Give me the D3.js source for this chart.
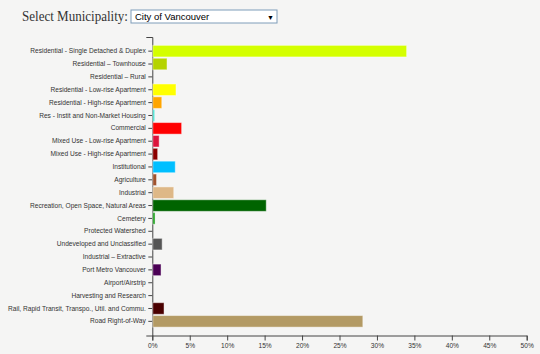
<!DOCTYPE html>
<html>
<head>
<meta charset="utf-8">
<script src="https://cdn.jsdelivr.net/npm/d3@7"></script>
<style>
  body { margin: 0; background: #f5f5f4; }
  svg { display: block; }
  .tick text { font-family: Arial, "Liberation Sans", sans-serif; font-size: 6.6px; fill: #333; }
  .domain, .tick line { stroke: #444; }
</style>
</head>
<body>
<svg id="chart" width="540" height="354"></svg>
<script>
const categories = [
  'Residential - Single Detached & Duplex',
  'Residential \u2013 Townhouse',
  'Residential \u2013 Rural',
  'Residential - Low-rise Apartment',
  'Residential - High-rise Apartment',
  'Res - Instit and Non-Market Housing',
  'Commercial',
  'Mixed Use - Low-rise Apartment',
  'Mixed Use - High-rise Apartment',
  'Institutional',
  'Agriculture',
  'Industrial',
  'Recreation, Open Space, Natural Areas',
  'Cemetery',
  'Protected Watershed',
  'Undeveloped and Unclassified',
  'Industrial \u2013 Extractive',
  'Port Metro Vancouver',
  'Airport/Airstrip',
  'Harvesting and Research',
  'Rail, Rapid Transit, Transpo., Util. and Commu.',
  'Road Right-of-Way'
]
// share of municipal land area, %
const values = [33.9, 1.9, 0, 3.1, 1.2, 0.25, 3.85, 0.85, 0.65, 3.0, 0.5, 2.8,
  15.15, 0.3, 0, 1.25, 0, 1.1, 0, 0, 1.5, 28.05]
const colors = ['#d4ff00', '#b5d300', '#ffffff', '#ffff00', '#ffa500', '#40e0d0',
  '#ff0000', '#dc143c', '#8b0000', '#00bfff', '#a0522d', '#deb887', '#006400',
  '#1a9e1a', '#ffffff', '#555555', '#ffffff', '#4b0055', '#ffffff', '#ffffff',
  '#4a0000', '#b39a64']
const xTicks = [0, 0.05, 0.1, 0.15, 0.2, 0.25, 0.3, 0.35, 0.4, 0.45, 0.5]
const municipality = 'City of Vancouver'

function draw() {
  const svg = d3.select('#chart')
  svg.selectAll('*').remove()

  // municipality picker header
  svg.append('text')
    .attr('x', 22)
    .attr('y', 21)
    .attr('font-family', '"Liberation Serif", "DejaVu Serif", serif')
    .attr('font-size', 14.5)
    .attr('fill', '#333')
    .attr('textLength', 106)
    .attr('lengthAdjust', 'spacingAndGlyphs')
    .text('Select Municipality:')

  const sel = svg.append('g').attr('transform', 'translate(131,10)')
  sel.append('rect')
    .attr('width', 146).attr('height', 13)
    .attr('fill', '#fff').attr('stroke', '#7f9db9')
  sel.append('text')
    .attr('x', 4).attr('y', 10)
    .attr('font-family', 'Arial, "Liberation Sans", sans-serif')
    .attr('font-size', 9.5)
    .attr('fill', '#000')
    .text(municipality)
  sel.append('text')
    .attr('x', 136).attr('y', 9.5)
    .attr('font-size', 7)
    .attr('fill', '#000')
    .text('\u25BC')

  const left = 152.3, right = 526.7, top = 37, bottom = 335.5

  const x = d3.scaleLinear().domain([0, 0.5]).range([left, right])
  const y = d3.scaleBand()
    .domain(categories)
    .range([top, bottom])
    .paddingInner(0.1)
    .paddingOuter(0.65)

  svg.append('g')
    .attr('transform', `translate(0,${bottom})`)
    .call(d3.axisBottom(x).tickValues(xTicks).tickFormat(d3.format('.0%')).tickSize(5))

  svg.append('g')
    .attr('transform', `translate(${left},0)`)
    .call(d3.axisLeft(y).tickSize(4).tickSizeOuter(6).tickPadding(2.5))

  svg.append('g')
    .selectAll('rect')
    .data(categories)
    .join('rect')
    .attr('x', x(0) + 0.5)
    .attr('y', d => y(d))
    .attr('height', y.bandwidth())
    .attr('width', (d, i) => Math.max(0, x(values[i] / 100) - x(0)))
    .attr('fill', (d, i) => colors[i])
    .attr('stroke', '#fff')
    .attr('stroke-opacity', 0.45)
    .attr('stroke-width', 1)
}

document.addEventListener('DOMContentLoaded', draw, false)
</script>
</body>
</html>
